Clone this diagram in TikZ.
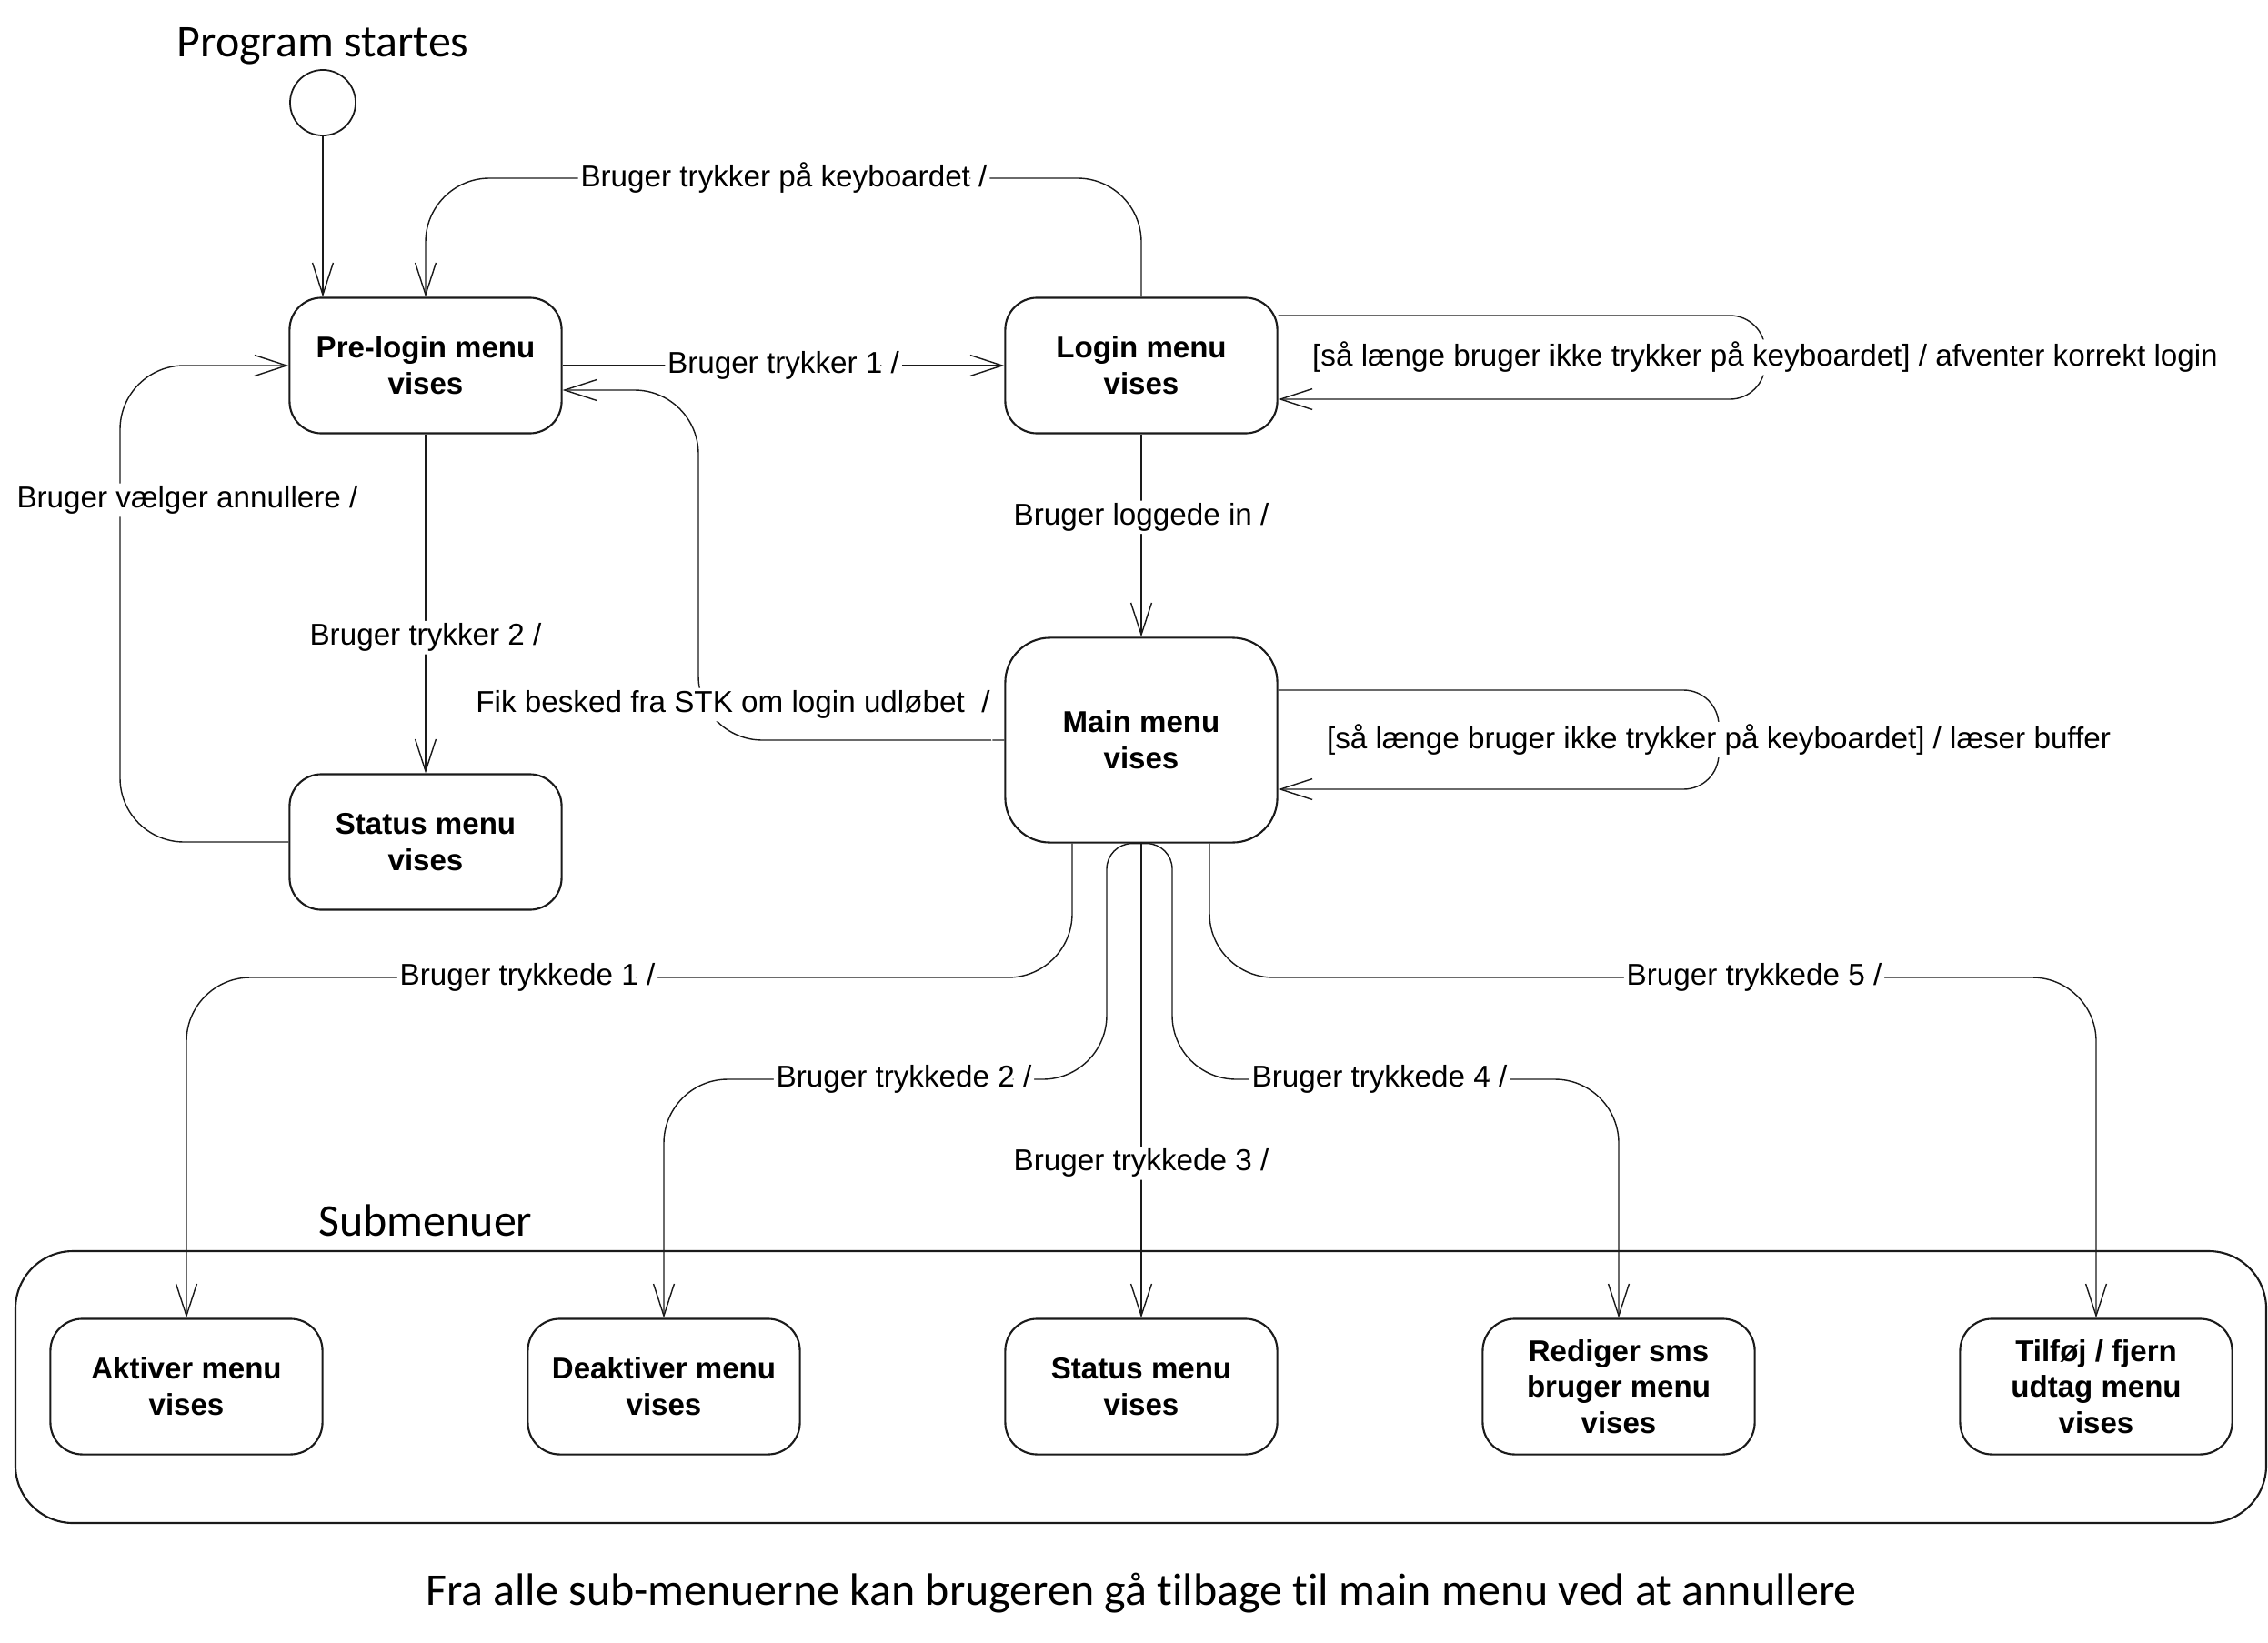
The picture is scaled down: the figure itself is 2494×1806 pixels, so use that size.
\documentclass[tikz,border=0pt]{standalone}
\usepackage{fontspec}
\setmainfont{Liberation Sans}
\newfontfamily\headfont[Ligatures=NoCommon]{Carlito}
\usepackage{tikz}
\usetikzlibrary{calc,arrows.meta}
\definecolor{ink}{HTML}{1A1A1A}
\newcommand{\labfont}{\fontsize{9.45}{11.3}\selectfont}
\newcommand{\boxfont}{\fontsize{9.4}{11.3}\selectfont\bfseries}
\newcommand{\notefont}{\headfont\fontsize{14.2}{17}\selectfont}
\tikzset{
  state/.style={draw=ink, line width=0.6pt, rounded corners=10pt, minimum width=2.99cm, minimum height=1.49cm, align=center, inner sep=0pt, font=\boxfont},
  init/.style={draw=ink, circle, line width=0.5pt, minimum size=0.72cm, inner sep=0pt},
  trans/.style={draw=ink, line width=0.4pt, rounded corners=20pt, -{Straight Barb[length=10pt,width=6.5pt]}},
  lab/.style={fill=white, inner sep=0.8pt, font=\labfont},
  note/.style={font=\notefont},
  frame/.style={draw=ink, line width=0.6pt, rounded corners=18pt},
}

\begin{document}
\begin{tikzpicture}[x=0.01cm, y=-0.01cm]
  \useasboundingbox (0,0) rectangle (2494,1806);
  % states
  \node[note] (title) at (355,51) {Program startes};
  \node[init] (start) at (355,113) {};
  \node[state] (pre) at (468,402) {Pre-login menu\\vises};
  \node[state] (login) at (1255,402) {Login menu\\vises};
  \node[state] (stat) at (468,926) {Status menu\\vises};
  \node[state, minimum height=2.25cm, rounded corners=14pt] (main) at (1255,814) {Main menu\\vises};
  % submenus
  \draw[frame] (17,1376) rectangle (2492,1675);
  \node[note] (sub) at (468,1342) {Submenuer};
  \node[state] (akt) at (205,1525) {Aktiver menu\\vises};
  \node[state] (deak) at (730,1525) {Deaktiver menu\\vises};
  \node[state] (stat2) at (1255,1525) {Status menu\\vises};
  \node[state] (red) at (1780,1525) {Rediger sms\\bruger menu\\vises};
  \node[state] (tilf) at (2305,1525) {Tilføj / fjern\\udtag menu\\vises};
  \node[note] (foot) at (1255,1752) {Fra alle sub-menuerne kan brugeren gå tilbage til main menu ved at annullere};
  % transitions
  \draw[trans] (start) -- (start |- pre.north);
  \draw[trans] (login.north) |- (862,196) node[lab] {Bruger trykker på keyboardet /} -| (pre.north);
  \draw[trans] (pre) -- node[lab] {Bruger trykker 1 /} (login);
  \draw[trans] (pre) -- node[lab, pos=0.6] {Bruger trykker 2 /} (stat);
  \draw[trans] (stat.west) -| (132,664) |- (pre.west)
    node[lab] at (206,550) {Bruger vælger annullere /};
  \draw[trans] (main.west) -| (768,600) |- ($(pre.east)+(0,27)$)
    node[lab] at (806,775) {Fik besked fra STK om login udløbet \ /};
  \draw[trans] (login) -- node[lab, pos=0.41] {Bruger loggede in /} (main);
  \draw[trans, rounded corners=11pt] ($(login.east)+(0,-55)$) -- (1941,347)
    -- node[lab] {[så længe bruger ikke trykker på keyboardet] / afventer korrekt login} (1941,439)
    -- ($(login.east)+(0,37)$);
  \draw[trans, rounded corners=11pt] ($(main.east)+(0,-55)$) -- (1890,759)
    -- node[lab] {[så længe bruger ikke trykker på keyboardet] / læser buffer} (1890,868)
    -- ($(main.east)+(0,54)$);
  \draw[trans] ($(main.south)+(-76,0)$) |- (580,1075) node[lab] {Bruger trykkede 1 /} -| (akt.north);
  \draw[trans] (main.south) [rounded corners=8pt] -- ++(-38,0) -- ++(0,100)
    [rounded corners=20pt] |- (994,1187) node[lab] {Bruger trykkede 2 /} -| (deak.north);
  \draw[trans] (main) -- node[lab, pos=0.674] {Bruger trykkede 3 /} (stat2);
  \draw[trans] (main.south) [rounded corners=8pt] -- ++(34,0) -- ++(0,100)
    [rounded corners=20pt] |- (1517,1187) node[lab] {Bruger trykkede 4 /} -| (red.north);
  \draw[trans] ($(main.south)+(75,0)$) |- (1929,1075) node[lab] {Bruger trykkede 5 /} -| (tilf.north);
\end{tikzpicture}
\end{document}
